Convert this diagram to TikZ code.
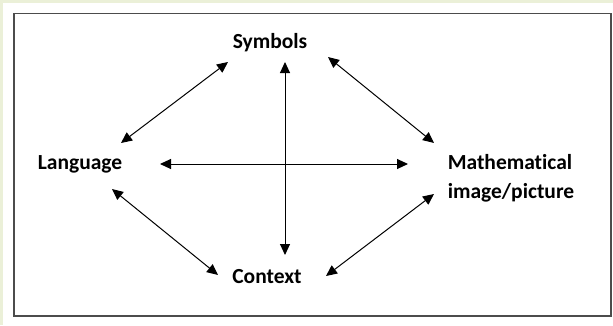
\documentclass[tikz,border=0pt]{standalone}
\usepackage{fontspec}
\setmainfont[Ligatures={NoCommon}]{Carlito}
\usetikzlibrary{arrows.meta}
\definecolor{bgreen}{HTML}{EBF0D8}
\begin{document}
\begin{tikzpicture}[x=1pt,y=-1pt,
  lbl/.style={font=\fontsize{21.5}{29}\selectfont\bfseries, inner sep=0pt, text=black},
  link/.style={line width=1pt, {Triangle[length=11pt,width=10pt]}-{Triangle[length=11pt,width=10pt]}}]
\useasboundingbox (0,0) rectangle (613,325);
\fill[white] (0,0) rectangle (613,325);
\fill[bgreen] (0,0) rectangle (3,325);
\fill[bgreen] (0,0) rectangle (613,3);
\draw[line width=1.3pt, black!70] (14,13.5) rectangle (611,316);
\node[lbl] (sym) at (270,43) {Symbols};
\node[lbl] (lang) at (80,164) {Language};
\node[lbl, align=left] (math) at (511,178) {Mathematical\\image/picture};
\node[lbl] (ctx) at (267,277) {Context};
\coordinate (sl1) at (228,62); \coordinate (sl2) at (121,143);
\coordinate (sm1) at (328,57); \coordinate (sm2) at (434,143);
\coordinate (v1) at (285,62); \coordinate (v2) at (285,255);
\coordinate (h1) at (160,164); \coordinate (h2) at (408,164);
\coordinate (lc1) at (112,189); \coordinate (lc2) at (218,275);
\coordinate (mc1) at (434,194); \coordinate (mc2) at (326,276);
\draw[link] (sl1) -- (sl2);
\draw[link] (sm1) -- (sm2);
\draw[link] (v1) -- (v2);
\draw[link] (h1) -- (h2);
\draw[link] (lc1) -- (lc2);
\draw[link] (mc1) -- (mc2);
\end{tikzpicture}
\end{document}
